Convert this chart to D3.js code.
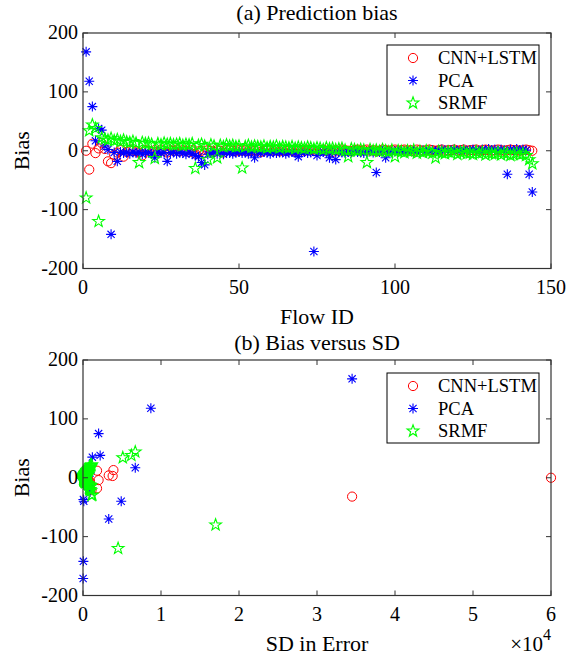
<!DOCTYPE html>
<html>
<head>
<meta charset="utf-8">
<script src="https://cdn.jsdelivr.net/npm/d3@7"></script>
<style>
  body { margin: 0; background: #fff; }
  text { font-family: "Liberation Serif", "Times New Roman", serif; fill: #000; }
</style>
</head>
<body>
<svg id="chart" width="568" height="656"></svg>
<script>
// ---- data ----
const seriesNames = ["CNN+LSTM", "PCA", "SRMF"];
const seriesColors = ["#ff0000", "#0000ff", "#00ff00"];
const seriesMarkers = ["circle", "asterisk", "pentagram"];

const flowIds = d3.range(1, 145);

// prediction bias per flow
const biasCNN = [
  0, -32, 12, -4, 4, 13, 3, -18, -21, -7,
  -3, 1, -10, -2, 2, 0, -1, -3, -8, 1,
  0, -2, 1, -1, 2, 0, -3, 1, 0, 2,
  -1, 1, 0, -2, 1, -5, -1, 0, -4, 1,
  0, -2, 1, 0, -3, 1, 2, 0, -1, 1,
  0, 2, -1, 1, 0, 1, -2, 0, 2, 1,
  0, 1, -1, 2, 0, 1, 0, -1, 2, 1,
  0, 2, 1, 0, -1, 1, 2, 0, 1, -2,
  1, 0, 2, 1, 0, -1, 1, 2, 0, 1,
  2, 0, 1, -1, 0, 2, 1, 0, 1, 2,
  0, 1, 2, 0, 1, -1, 2, 1, 0, 1,
  2, 1, 0, 1, 2, 0, 1, 1, 2, 0,
  1, 2, 0, 1, 1, 2, 0, 1, 2, 1,
  0, 1, 2, 1, 0, 1, 2, 1, 1, 0,
  1, 2, 1, 0
];
const biasPCA = [
  168, 118, 75, 17, 38, 35, 8, 2, -142, -3,
  -18, -2, -4, -3, -5, -2, -4, -3, -6, -2,
  -3, -5, -12, -2, -4, -3, -18, -4, -2, -5,
  -3, -4, -6, -2, -5, -8, -10, -20, -24, -6,
  -4, -3, -5, -2, -6, -3, -4, -5, -3, -2,
  -4, -3, -5, -2, -12, -3, -4, -2, -3, -5,
  -2, -4, -3, -2, -5, -3, -2, -4, -10, -3,
  -2, -4, -3, -171, -8, -3, -2, -4, -12, -3,
  -15, -2, -3, -4, -2, -3, -1, -2, -3, -4,
  -2, -1, -3, -37, -2, -1, -12, -2, -3, -1,
  -2, 0, -1, -2, 0, -1, -2, 0, 1, -1,
  0, 1, -1, 0, 2, 1, 0, 1, 2, 0,
  1, 2, 0, 1, 2, 1, 0, 2, 1, 3,
  1, 2, 0, 2, 1, -40, 2, 1, 3, 1,
  2, 1, -40, -70
];
const biasSRMF = [
  -80, 34, 44, 38, -120, 22, 20, 18, 21, 17,
  19, 16, 18, 15, 14, 16, 13, -20, 14, 12,
  13, 11, -13, 12, 10, 13, 11, 12, 10, 11,
  12, 9, 11, 10, 12, -30, 9, 11, 8, -15,
  10, 8, -12, 9, 7, 10, 8, 9, 7, 8,
  -29, 7, 9, 6, 8, 7, 6, 8, 5, 7,
  6, 8, 5, 7, 6, 5, 7, 4, 6, 5,
  4, 6, 5, 3, 5, 4, 2, 5, 3, 4,
  2, 3, 4, 1, -10, 3, 2, 0, 2, 1,
  -20, 2, 0, 1, -1, 2, 0, -2, 1, -10,
  0, -1, -3, 0, -2, 1, -4, -1, -3, 0,
  -2, -4, -12, -1, -3, -5, -2, -4, -1, -6,
  -3, -2, -5, -4, -6, -2, -5, -3, -7, -4,
  -5, -6, -3, -7, -4, -5, -8, -6, -4, -7,
  -5, -8, -15, -22
];

// standard deviation of the error per flow
const sdCNN = [
  60000, 34500, 1800, 2000, 3300, 3900, 3800, 1800, 1100, 900,
  700, 500, 800, 400, 300, 350, 450, 600, 750, 300,
  250, 400, 300, 350, 280, 220, 500, 260, 240, 300,
  280, 310, 260, 330, 290, 600, 320, 270, 480, 250,
  230, 350, 260, 240, 420, 270, 300, 250, 280, 230,
  260, 290, 310, 240, 270, 250, 330, 220, 300, 260,
  240, 280, 300, 310, 250, 270, 230, 290, 320, 260,
  240, 300, 270, 250, 290, 230, 310, 260, 280, 340,
  250, 230, 300, 270, 240, 290, 260, 310, 230, 280,
  300, 240, 270, 290, 250, 310, 260, 230, 280, 300,
  240, 270, 310, 250, 280, 290, 300, 260, 230, 270,
  310, 280, 240, 260, 300, 250, 270, 280, 310, 230,
  260, 300, 240, 270, 280, 310, 230, 260, 300, 270,
  240, 280, 310, 260, 230, 270, 300, 280, 260, 240,
  270, 300, 280, 250
];
const sdPCA = [
  34500, 8700, 2000, 6700, 2200, 1200, 900, 600, 50, 400,
  800, 300, 350, 280, 400, 250, 300, 260, 420, 230,
  270, 380, 700, 240, 310, 260, 900, 300, 220, 350,
  260, 310, 400, 230, 340, 500, 600, 800, 900, 420,
  300, 260, 350, 220, 410, 250, 300, 330, 260, 230,
  300, 260, 340, 220, 650, 250, 300, 230, 260, 340,
  230, 300, 260, 220, 340, 250, 230, 300, 600, 260,
  230, 300, 260, 20, 500, 250, 230, 300, 650, 260,
  700, 230, 260, 300, 230, 260, 200, 230, 260, 300,
  230, 200, 260, 50, 230, 200, 650, 230, 260, 200,
  230, 180, 200, 230, 180, 200, 230, 180, 200, 210,
  180, 200, 210, 180, 230, 200, 180, 200, 230, 180,
  200, 230, 180, 200, 230, 200, 180, 230, 200, 260,
  200, 230, 180, 230, 200, 4900, 230, 200, 260, 200,
  230, 200, 100, 3300
];
const sdSRMF = [
  17000, 5100, 6700, 6200, 4500, 1100, 1000, 900, 1000, 850,
  950, 800, 900, 750, 700, 800, 650, 900, 700, 600,
  650, 550, 1000, 600, 500, 650, 550, 600, 500, 550,
  600, 450, 550, 500, 600, 1100, 450, 550, 400, 950,
  500, 400, 850, 450, 350, 500, 400, 450, 350, 400,
  1200, 350, 450, 300, 400, 350, 300, 400, 250, 350,
  300, 400, 250, 350, 300, 250, 350, 200, 300, 250,
  200, 300, 250, 150, 250, 200, 100, 250, 150, 200,
  100, 150, 200, 80, 600, 150, 100, 60, 100, 80,
  800, 100, 60, 80, 70, 100, 60, 80, 80, 600,
  60, 70, 100, 60, 80, 70, 150, 70, 100, 60,
  80, 150, 700, 70, 100, 200, 80, 150, 70, 250,
  100, 80, 200, 150, 250, 80, 200, 100, 300, 150,
  200, 250, 100, 300, 150, 200, 350, 250, 150, 300,
  200, 350, 800, 1000
];

const flowTicks = [0, 50, 100, 150];
const sdTicks = [0, 10000, 20000, 30000, 40000, 50000, 60000];
const biasTicks = [-200, -100, 0, 100, 200];

// ---- layout ----
const svg = d3.select("#chart");
const plotLeft = 83, plotRight = 551;
const axisColor = "#333";

const topPanel = {
  x: d3.scaleLinear().domain([0, 150]).range([plotLeft, plotRight]),
  y: d3.scaleLinear().domain([-200, 200]).range([268.5, 33]),
  xTicks: flowTicks, xFmt: d => d,
  title: "(a) Prediction bias", titleY: 20, xLabel: "Flow ID",
  xs: [flowIds, flowIds, flowIds],
  legendTop: 45
};
const botPanel = {
  x: d3.scaleLinear().domain([0, 60000]).range([plotLeft, plotRight]),
  y: d3.scaleLinear().domain([-200, 200]).range([595.5, 360]),
  xTicks: sdTicks, xFmt: d => d / 10000,
  title: "(b) Bias versus SD", titleY: 350, xLabel: "SD in Error",
  xs: [sdCNN, sdPCA, sdSRMF],
  legendTop: 373
};
const biases = [biasCNN, biasPCA, biasSRMF];

function markerPath(kind) {
  if (kind === "asterisk") {
    const r = 5, d = r * 0.72;
    return `M${-r},0L${r},0M0,${-r}L0,${r}M${-d},${-d}L${d},${d}M${-d},${d}L${d},${-d}`;
  }
  if (kind === "pentagram") {
    const R = 6.2, rIn = R * 0.4;
    const pts = d3.range(10).map(i => {
      const a = -Math.PI / 2 + i * Math.PI / 5;
      const rr = i % 2 === 0 ? R : rIn;
      return [rr * Math.cos(a), rr * Math.sin(a)];
    });
    return "M" + pts.map(p => p[0].toFixed(2) + "," + p[1].toFixed(2)).join("L") + "Z";
  }
  return null;
}

function drawMarker(g, kind, color, x, y) {
  if (kind === "circle") {
    g.append("circle").attr("cx", x).attr("cy", y).attr("r", 4.6)
      .attr("fill", "none").attr("stroke", color).attr("stroke-width", 1);
  } else {
    g.append("path").attr("d", markerPath(kind))
      .attr("transform", `translate(${x},${y})`)
      .attr("fill", "none").attr("stroke", color).attr("stroke-width", 1.1);
  }
}

function drawPanel(p) {
  const g = svg.append("g");
  const [x0, x1] = p.x.range();
  const [yb, yt] = p.y.range();

  // data markers (drawn in series order)
  biases.forEach((vals, s) => {
    const gs = g.append("g");
    vals.forEach((v, i) => drawMarker(gs, seriesMarkers[s], seriesColors[s], p.x(p.xs[s][i]), p.y(v)));
  });

  // frame and mirrored inward ticks
  g.append("rect").attr("x", x0).attr("y", yt).attr("width", x1 - x0).attr("height", yb - yt)
    .attr("fill", "none").attr("stroke", axisColor).attr("stroke-width", 1.2);
  const tl = 5;
  p.xTicks.forEach(t => {
    const x = p.x(t);
    g.append("line").attr("x1", x).attr("x2", x).attr("y1", yb).attr("y2", yb - tl).attr("stroke", axisColor);
    g.append("line").attr("x1", x).attr("x2", x).attr("y1", yt).attr("y2", yt + tl).attr("stroke", axisColor);
    g.append("text").attr("x", x).attr("y", yb + 25).attr("text-anchor", "middle")
      .attr("font-size", 20).text(p.xFmt(t));
  });
  biasTicks.forEach(t => {
    const y = p.y(t);
    g.append("line").attr("x1", x0).attr("x2", x0 + tl).attr("y1", y).attr("y2", y).attr("stroke", axisColor);
    g.append("line").attr("x1", x1).attr("x2", x1 - tl).attr("y1", y).attr("y2", y).attr("stroke", axisColor);
    g.append("text").attr("x", x0 - 5).attr("y", y + 6).attr("text-anchor", "end")
      .attr("font-size", 20).text(t < 0 ? "-" + Math.abs(t) : t);
  });

  // titles
  g.append("text").attr("x", (x0 + x1) / 2).attr("y", p.titleY).attr("text-anchor", "middle")
    .attr("font-size", 22).text(p.title);
  g.append("text").attr("x", (x0 + x1) / 2).attr("y", yb + 55).attr("text-anchor", "middle")
    .attr("font-size", 22).text(p.xLabel);
  g.append("text").attr("transform", `translate(29,${(yt + yb) / 2}) rotate(-90)`)
    .attr("text-anchor", "middle").attr("font-size", 22).text("Bias");

  // legend
  const lx = 387, lw = 152, lh = 70, ly = p.legendTop;
  const lg = g.append("g");
  lg.append("rect").attr("x", lx).attr("y", ly).attr("width", lw).attr("height", lh)
    .attr("fill", "#fff").attr("stroke", "#000").attr("stroke-width", 1);
  seriesNames.forEach((name, s) => {
    const cy = ly + 13 + s * 22.5;
    drawMarker(lg, seriesMarkers[s], seriesColors[s], lx + 26, cy);
    lg.append("text").attr("x", lx + 51).attr("y", cy + 6).attr("font-size", 18.5).text(name);
  });
}

drawPanel(topPanel);
drawPanel(botPanel);

// exponent label for the SD axis
const expo = svg.append("text").attr("x", 551).attr("y", 651).attr("text-anchor", "end").attr("font-size", 21);
expo.append("tspan").text("\u00d710");
expo.append("tspan").attr("dy", -11).attr("font-size", 16).text("4");
</script>
</body>
</html>
